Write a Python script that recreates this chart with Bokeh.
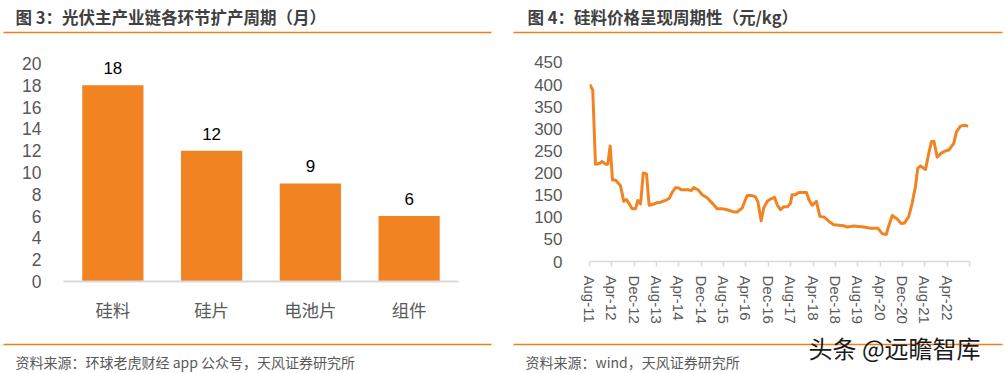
import pandas as pd
from bokeh.plotting import figure
from bokeh.models import ColumnDataSource, Range1d, FactorRange, FixedTicker, LabelSet
from bokeh.layouts import column, row
from bokeh.embed import file_html
from bokeh.resources import INLINE
from bokeh.core.properties import value

# ---------------- data ----------------
TITLE_L = "图 3：光伏主产业链各环节扩产周期（月）"
TITLE_R = "图 4：硅料价格呈现周期性（元/kg）"
SOURCE_L = "资料来源：环球老虎财经 app 公众号，天风证券研究所"
SOURCE_R = "资料来源：wind，天风证券研究所"
WATERMARK = "头条 @远瞻智库"

STAGES = ["硅料", "硅片", "电池片", "组件"]
MONTHS = [18, 12, 9, 6]
L_YTICKS = [0, 2, 4, 6, 8, 10, 12, 14, 16, 18, 20]

PRICE_DATES = [
    "2011-08-04", "2011-09-06", "2011-10-05", "2011-11-21", "2011-12-17", "2012-01-22",
    "2012-02-17", "2012-03-13", "2012-04-08", "2012-05-10", "2012-07-04", "2012-08-09",
    "2012-09-08", "2012-10-03", "2012-11-09", "2012-12-15", "2013-01-10", "2013-02-09",
    "2013-03-08", "2013-04-13", "2013-05-12", "2013-07-01", "2013-08-08", "2013-09-13",
    "2013-11-07", "2013-12-20", "2014-01-19", "2014-02-24", "2014-03-30", "2014-04-25",
    "2014-07-17", "2014-08-13", "2014-09-10", "2014-10-28", "2014-12-11", "2015-02-04",
    "2015-03-29", "2015-05-22", "2015-07-16", "2015-09-09", "2015-11-20", "2015-12-27",
    "2016-02-20", "2016-03-26", "2016-04-14", "2016-06-08", "2016-07-13", "2016-08-08",
    "2016-09-14", "2016-10-12", "2016-11-19", "2016-12-24", "2017-02-07", "2017-03-06",
    "2017-04-11", "2017-05-17", "2017-06-30", "2017-07-30", "2017-08-17", "2017-09-23",
    "2017-10-28", "2018-01-21", "2018-02-15", "2018-03-22", "2018-05-08", "2018-06-14",
    "2018-08-04", "2018-09-20", "2018-11-14", "2019-01-08", "2019-02-25", "2019-04-08",
    "2019-06-19", "2019-10-06", "2019-12-18", "2020-03-07", "2020-04-24", "2020-06-07",
    "2020-07-05", "2020-08-12", "2020-10-05", "2020-11-18", "2020-12-24", "2021-02-09",
    "2021-03-16", "2021-04-21", "2021-05-16", "2021-06-15", "2021-08-09", "2021-09-14",
    "2021-10-13", "2021-11-08", "2021-12-15", "2022-01-28", "2022-03-14", "2022-04-19",
    "2022-06-12", "2022-07-11", "2022-08-25", "2022-10-07", "2022-11-17",
]
PRICES = [
    400, 387, 220, 222, 226, 220,
    220, 261, 184, 184, 171, 136,
    140, 132, 119, 119, 138, 130,
    200, 198, 127, 130, 133, 134,
    138, 143, 156, 167, 166, 162,
    162, 160, 167, 162, 151, 144,
    132, 119, 119, 117, 112, 112,
    121, 140, 149, 149, 146, 136,
    92, 121, 136, 141, 145, 128,
    117, 124, 124, 132, 151, 151,
    156, 156, 140, 127, 136, 102,
    100, 91, 83, 82, 81, 78,
    80, 78, 75, 75, 63, 61,
    81, 104, 96, 86, 87, 102,
    132, 170, 211, 216, 208, 245,
    271, 272, 236, 245, 250, 252,
    267, 293, 306, 308, 306,
]
DATE_TICK_LABELS = ["Aug-11", "Apr-12", "Dec-12", "Aug-13", "Apr-14", "Dec-14", "Aug-15",
                    "Apr-16", "Dec-16", "Aug-17", "Apr-18", "Dec-18", "Aug-19", "Apr-20",
                    "Dec-20", "Aug-21", "Apr-22"]
AXIS_END = "Dec-22"
R_YTICKS = [0, 50, 100, 150, 200, 250, 300, 350, 400, 450]

# ---------------- styles ----------------
ORANGE = "#F28322"
RULE = "#F0801A"
GREY_TXT = "#595959"
AXIS_GREY = "#D9D9D9"
CJK = "Noto Sans CJK SC"
LAT = "Liberation Sans"

start = pd.Timestamp("2011-08-01")


def month_index(ts):
    ts = pd.Timestamp(ts)
    return (ts.year - start.year) * 12 + (ts.month - start.month) + (ts.day - 1) / ts.days_in_month


def deco_fig(w, h):
    f = figure(width=w, height=h, x_range=Range1d(0, w), y_range=Range1d(h, 0),
               x_axis_type=None, y_axis_type=None, toolbar_location=None,
               output_backend="svg", min_border=0)
    f.grid.visible = False
    f.outline_line_color = None
    return f


# ---------------- header ----------------
hdr = deco_fig(1005, 34)
hdr.text(x=[15, 527], y=[16, 16], text=[TITLE_L, TITLE_R], text_font=value(CJK),
         text_font_style="bold", text_font_size="16.5px", text_color="#404040",
         text_baseline="middle", text_align="left")
hdr.segment(x0=[3, 513], y0=[32, 32], x1=[491, 1002], y1=[32, 32],
            line_color=RULE, line_width=1.5)

# ---------------- left chart ----------------
# figure spans y 34..326; frame 41..281 px; 10.9 px per unit
pl = figure(width=500, height=292, x_range=FactorRange(factors=STAGES),
            y_range=Range1d(0, 22.02), toolbar_location=None, output_backend="svg",
            min_border_left=63, min_border_right=42, min_border_top=7, min_border_bottom=45)
src_l = ColumnDataSource(dict(stage=STAGES, months=MONTHS))
pl.vbar(x="stage", top="months", width=0.62, source=src_l, fill_color=ORANGE, line_color=None)
pl.add_layout(LabelSet(x="stage", y="months", text="months", source=src_l,
                       text_align="center", text_baseline="alphabetic", y_offset=11,
                       text_font=value(LAT), text_font_size="17px", text_color="#000000"))
pl.grid.visible = False
pl.outline_line_color = None
pl.yaxis.ticker = FixedTicker(ticks=L_YTICKS)
pl.yaxis.axis_line_color = None
pl.yaxis.major_tick_line_color = None
pl.yaxis.minor_tick_line_color = None
pl.yaxis.major_label_standoff = 16
pl.yaxis.major_label_text_font = LAT
pl.yaxis.major_label_text_font_size = "17.5px"
pl.yaxis.major_label_text_color = GREY_TXT
pl.xaxis.axis_line_color = AXIS_GREY
pl.xaxis.axis_line_width = 2
pl.xaxis.major_tick_line_color = None
pl.xaxis.minor_tick_line_color = None
pl.xaxis.major_label_standoff = 9
pl.xaxis.major_label_text_font = CJK
pl.xaxis.major_label_text_font_size = "17.5px"
pl.xaxis.major_label_text_color = GREY_TXT

# ---------------- right chart ----------------
xs = [month_index(d) for d in PRICE_DATES]
tick_pos = [month_index(pd.to_datetime(t, format="%b-%y")) for t in DATE_TICK_LABELS]
end_pos = month_index(pd.to_datetime(AXIS_END, format="%b-%y"))
overrides = {p: t for p, t in zip(tick_pos, DATE_TICK_LABELS)}
overrides[end_pos] = ""

# frame 41..262 px; 0.4444 px per unit
pr = figure(width=505, height=292, x_range=Range1d(0, end_pos), y_range=Range1d(0, 497.25),
            toolbar_location=None, output_backend="svg",
            min_border_left=89, min_border_right=36, min_border_top=7, min_border_bottom=64)
pr.line(x=xs, y=PRICES, line_color=ORANGE, line_width=3, line_join="round")
pr.grid.visible = False
pr.outline_line_color = None
pr.yaxis.ticker = FixedTicker(ticks=R_YTICKS)
pr.yaxis.axis_line_color = None
pr.yaxis.major_tick_line_color = None
pr.yaxis.minor_tick_line_color = None
pr.yaxis.major_label_standoff = 21
pr.yaxis.major_label_text_font = LAT
pr.yaxis.major_label_text_font_size = "17px"
pr.yaxis.major_label_text_color = GREY_TXT
pr.xaxis.ticker = FixedTicker(ticks=tick_pos + [end_pos])
pr.xaxis.major_label_overrides = overrides
pr.xaxis.major_label_orientation = "vertical"
pr.xaxis.axis_line_color = AXIS_GREY
pr.xaxis.axis_line_width = 1.5
pr.xaxis.major_tick_line_color = AXIS_GREY
pr.xaxis.major_tick_line_width = 1.5
pr.xaxis.major_tick_in = 0
pr.xaxis.major_tick_out = 5
pr.xaxis.minor_tick_line_color = None
pr.xaxis.major_label_standoff = 9
pr.xaxis.major_label_text_font = LAT
pr.xaxis.major_label_text_font_size = "15px"
pr.xaxis.major_label_text_color = GREY_TXT

# ---------------- footer (y 326..373) ----------------
ftr = deco_fig(1005, 47)
ftr.segment(x0=[3, 513], y0=[18, 18], x1=[491, 1002], y1=[18, 18],
            line_color=RULE, line_width=1.5)
ftr.text(x=[15, 525], y=[35, 35], text=[SOURCE_L, SOURCE_R], text_font=value(CJK),
         text_font_size="14px", text_color=GREY_TXT, text_baseline="middle", text_align="left")
ftr.text(x=[808], y=[21], text=[WATERMARK], text_font=value(CJK), text_font_size="24px",
         text_color="#1a1a1a", text_baseline="middle", text_align="left")

layout = column(hdr, row(column(pl), column(pr)), ftr)
html = file_html(layout, INLINE)
html = html.replace("<body>", '<body style="margin:0;overflow:hidden">', 1)
open("out.html", "w").write(html)
